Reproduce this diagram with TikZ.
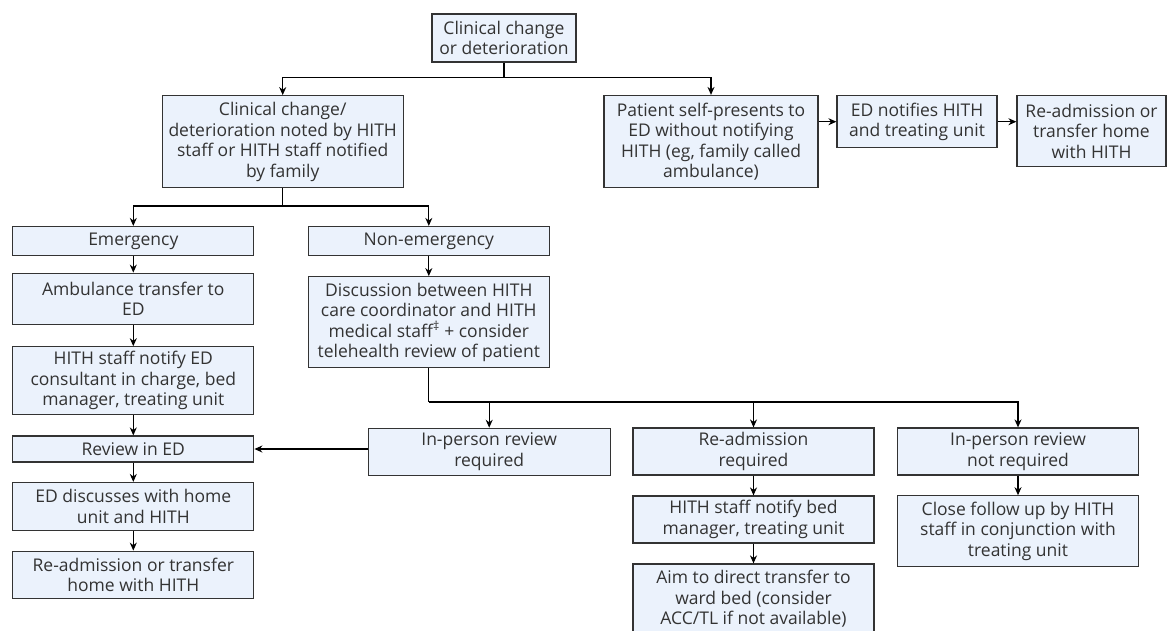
\documentclass[tikz,border=0pt]{standalone}
\usepackage{fontspec}
\setmainfont{Open Sans}
\usepackage{tikz}
\usetikzlibrary{arrows.meta,calc}
\definecolor{blue050}{HTML}{EBF2FC}
\definecolor{grey800}{HTML}{333333}
\tikzset{
  box/.style ={draw=grey800, line width=1.2pt, fill=blue050, text=grey800,
               align=center, inner sep=1pt, minimum width=241pt,
               font=\fontsize{17.5}{20.5}\selectfont},
  ar/.style  ={-{Stealth[length=8pt,width=7pt]}, draw=black,
               line width=1.2pt},
  ln/.style  ={draw=black, line width=1.2pt}
}

\begin{document}
\begin{tikzpicture}[x=1pt, y=-1pt]
\useasboundingbox (0,0) rectangle (1169,630);
\node[box, minimum width=144pt, minimum height=48pt] (start) at (504,38)
  {Clinical change\\or deterioration};
\node[box, minimum height=92pt] (noted) at (282.7,141.7)
  {Clinical change/\\deterioration noted by HITH\\staff or HITH staff notified\\by family};
\node[box, minimum width=214pt, minimum height=92pt] (self) at (711,141.5)
  {Patient self-presents to\\ED without notifying\\HITH (eg, family called\\ambulance)};
\node[box, minimum width=160pt, minimum height=52pt] (ednotif) at (917,121.7)
  {ED notifies HITH\\and treating unit};
\node[box, minimum width=149pt, minimum height=71pt] (homeA) at (1091.5,131.2)
  {Re-admission or\\transfer home\\with HITH};

\node[box, minimum height=29pt] (emerg) at (133.3,241) {Emergency};
\node[box, minimum height=51pt] (amb) at (133.3,298.7)
  {Ambulance transfer to\\ED};
\node[box, minimum height=68pt] (notifyed) at (133.3,380.8)
  {HITH staff notify ED\\consultant in charge, bed\\manager, treating unit};
\node[box, minimum height=26pt] (review) at (133.3,449) {Review in ED};
\node[box, minimum height=48pt] (eddisc) at (133.3,506.5)
  {ED discusses with home\\unit and HITH};
\node[box, minimum height=47pt] (homeB) at (133.3,574.7)
  {Re-admission or transfer\\home with HITH};

\node[box, minimum height=29pt] (nonemerg) at (428.8,241) {Non-emergency};
\node[box, minimum height=91pt] (discuss) at (428.8,322.2)
  {Discussion between HITH\\care coordinator and HITH\\medical staff\textsuperscript{‡} + consider\\telehealth review of patient};

\node[box, minimum width=242pt, minimum height=47pt] (inperson) at (489.2,451.8)
  {In-person review\\required};
\node[box, minimum height=47pt] (readreq) at (753.5,451.5)
  {Re-admission\\required};
\node[box, minimum height=47pt] (notreq) at (1018,451.5)
  {In-person review\\not required};
\node[box, minimum height=47pt] (notifybed) at (753.5,519.5)
  {HITH staff notify bed\\manager, treating unit};
\node[box, minimum height=70pt] (aim) at (753.5,599)
  {Aim to direct transfer to\\ward bed (consider\\ACC/TL if not available)};
\node[box, minimum height=71pt] (follow) at (1018,531.3)
  {Close follow up by HITH\\staff in conjunction with\\treating unit};

\coordinate (j1) at (504,77.7);
\coordinate (j2) at (282.7,206);
\coordinate (j3) at (428.8,402);

\draw[ln] (start) -- (j1);
\draw[ar] (j1) -| (noted);
\draw[ar] (j1) -| (self);
\draw[ar] (self.east |- ednotif.west) -- (ednotif.west);
\draw[ar] (ednotif.east) -- (homeA.west |- ednotif.east);

\draw[ln] (noted) -- (j2);
\draw[ar] (j2) -| (emerg);
\draw[ar] (j2) -| (nonemerg);
\draw[ar] (emerg) -- (amb);
\draw[ar] (amb) -- (notifyed);
\draw[ar] (notifyed) -- (review);
\draw[ar] (review) -- (eddisc);
\draw[ar] (eddisc) -- (homeB);

\draw[ar] (nonemerg) -- (discuss);
\draw[ln] (discuss) -- (j3);
\draw[ar] (j3) -| (inperson);
\draw[ar] (j3) -| (readreq);
\draw[ar] (j3) -| (notreq);
\draw[ar] (inperson.west |- review.east) -- (review.east);
\draw[ar] (readreq) -- (notifybed);
\draw[ar] (notifybed) -- (aim);
\draw[ar] (notreq) -- (follow);
\end{tikzpicture}
\end{document}
